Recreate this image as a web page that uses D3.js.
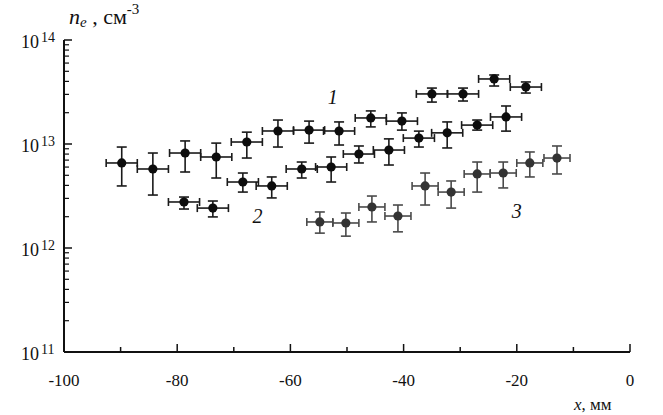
<!DOCTYPE html>
<html><head><meta charset="utf-8">
<script src="https://cdn.jsdelivr.net/npm/d3@7"></script>
<style>body{margin:0;background:#fff}svg{display:block}text{font-family:"Liberation Serif","Times New Roman",serif}</style>
</head><body>
<script>
// Series 1 (upper)
const x1 = [-89.8,-84.3,-78.6,-73.1,-67.7,-62.2,-56.7,-51.4,-45.8,-40.3,-35.0,-29.5,-24.0,-18.4];
const y1 = [6.57e12,5.75e12,8.19e12,7.50e12,1.045e13,1.334e13,1.36e13,1.334e13,1.78e13,1.66e13,3.03e13,3.03e13,4.22e13,3.53e13];
const y1hi = [9.35e12,8.19e12,1.07e13,1.02e13,1.30e13,1.70e13,1.66e13,1.63e13,2.08e13,1.99e13,3.45e13,3.45e13,4.61e13,3.95e13];
const y1lo = [3.95e12,3.23e12,5.38e12,4.71e12,7.33e12,9.35e12,1.02e13,9.78e12,1.46e13,1.36e13,2.53e13,2.59e13,3.61e13,3.09e13];
// Series 2 (middle)
const x2 = [-78.8,-73.7,-68.4,-63.3,-58.0,-52.8,-47.9,-42.6,-37.3,-32.3,-27.0,-21.9];
const y2 = [2.77e12,2.42e12,4.31e12,3.95e12,5.75e12,6.01e12,8.01e12,8.75e12,1.14e13,1.28e13,1.52e13,1.82e13];
const y2hi = [3.09e12,2.83e12,5.26e12,4.82e12,6.71e12,7.50e12,9.57e12,1.12e13,1.33e13,1.63e13,1.70e13,2.32e13];
const y2lo = [2.37e12,1.99e12,3.45e12,3.03e12,4.71e12,4.31e12,6.57e12,6.28e12,9.35e12,9.16e12,1.36e13,1.33e13];
// Series 3 (lower)
const x3 = [-54.8,-50.2,-45.6,-41.0,-36.2,-31.6,-27.0,-22.4,-17.7,-12.9];
const y3 = [1.78e12,1.74e12,2.48e12,2.03e12,3.95e12,3.45e12,5.15e12,5.26e12,6.57e12,7.33e12];
const y3hi = [2.22e12,2.17e12,3.16e12,2.59e12,5.26e12,4.41e12,6.71e12,6.71e12,8.38e12,9.57e12];
const y3lo = [1.39e12,1.30e12,1.78e12,1.43e12,2.59e12,2.42e12,3.45e12,3.78e12,4.82e12,5.15e12];
const xErr = [2.75, 2.75, 2.3];

const xTicks = [-100,-80,-60,-40,-20,0];
const xTickLabels = ["-100","-80","-60","-40","-20","0"];
const yDecades = [1e11,1e12,1e13,1e14];
const yExp = ["11","12","13","14"];
const seriesNames = ["1","2","3"];

const W = 663, H = 415;
const svg = d3.select("body").append("svg").attr("width", W).attr("height", H);
const x = d3.scaleLinear().domain([-100, 0]).range([64, 630]);
const y = d3.scaleLog().domain([1e11, 1e14]).range([352, 40]);

// axes
const ax = svg.append("g").attr("stroke","#111").attr("stroke-width",2);
ax.append("line").attr("x1",x(-100)).attr("x2",x(0)).attr("y1",y(1e11)).attr("y2",y(1e11));
ax.append("line").attr("x1",x(-100)).attr("x2",x(-100)).attr("y1",y(1e11)).attr("y2",y(1e14));
// x ticks
d3.range(-100, 1, 10).forEach(v => {
  const major = v % 20 === 0;
  ax.append("line").attr("x1",x(v)).attr("x2",x(v)).attr("y1",y(1e11)).attr("y2",y(1e11)-(major?8:5))
    .attr("stroke-width",1.5);
});
// y ticks
yDecades.forEach((d,i) => {
  ax.append("line").attr("x1",x(-100)).attr("x2",x(-100)+8).attr("y1",y(d)).attr("y2",y(d)).attr("stroke-width",1.5);
  if (i < yDecades.length-1) {
    for (let k=2;k<=9;k++) {
      ax.append("line").attr("x1",x(-100)).attr("x2",x(-100)+5).attr("y1",y(d*k)).attr("y2",y(d*k)).attr("stroke-width",1.2);
    }
  }
});
// x tick labels
xTicks.forEach((v,i) => {
  svg.append("text").attr("x",x(v)).attr("y",386).attr("text-anchor","middle")
    .attr("font-size",17).attr("fill","#111").text(xTickLabels[i]);
});
// y tick labels
yDecades.forEach((d,i) => {
  svg.append("text").attr("x",39).attr("y",y(d)+8).attr("text-anchor","end")
    .attr("font-size",18).attr("fill","#111").text("10");
  svg.append("text").attr("x",41).attr("y",y(d)+2).attr("font-size",14).attr("fill","#111").text(yExp[i]);
});
// axis titles
const yt = svg.append("text").attr("x",69).attr("y",24).attr("font-size",22).attr("fill","#111");
yt.append("tspan").attr("font-style","italic").text("n");
yt.append("tspan").attr("font-style","italic").attr("font-size",15).attr("dy",3).text("e");
yt.append("tspan").attr("dy",-3).text(" , см");
yt.append("tspan").attr("font-size",15).attr("dy",-10).text("-3");
const xt = svg.append("text").attr("x",574).attr("y",410).attr("font-size",17).attr("fill","#111");
xt.append("tspan").attr("font-style","italic").text("x");
xt.append("tspan").text(", мм");

// data
const series = [
  {xs:x1, ys:y1, hi:y1hi, lo:y1lo, col:"#0d0d0d", ecol:"#1a1a1a"},
  {xs:x2, ys:y2, hi:y2hi, lo:y2lo, col:"#0d0d0d", ecol:"#1a1a1a"},
  {xs:x3, ys:y3, hi:y3hi, lo:y3lo, col:"#333333", ecol:"#4a4a4a"}
];
series.forEach((s,si) => {
  const g = svg.append("g").attr("stroke", s.ecol).attr("stroke-width", 1.6);
  s.xs.forEach((xv,i) => {
    const cx = x(xv), cy = y(s.ys[i]);
    const xl = x(xv - xErr[si]), xr = x(xv + xErr[si]);
    const yh = y(s.hi[i]), yl = y(s.lo[i]);
    g.append("line").attr("x1",xl).attr("x2",xr).attr("y1",cy).attr("y2",cy);
    g.append("line").attr("x1",xl).attr("x2",xl).attr("y1",cy-4).attr("y2",cy+4);
    g.append("line").attr("x1",xr).attr("x2",xr).attr("y1",cy-4).attr("y2",cy+4);
    g.append("line").attr("x1",cx).attr("x2",cx).attr("y1",yh).attr("y2",yl);
    g.append("line").attr("x1",cx-5).attr("x2",cx+5).attr("y1",yh).attr("y2",yh);
    g.append("line").attr("x1",cx-5).attr("x2",cx+5).attr("y1",yl).attr("y2",yl);
    svg.append("circle").attr("cx",cx).attr("cy",cy).attr("r",4.6).attr("fill",s.col);
  });
});
// series labels
const labelPos = [[-52.5, 2.4e13],[-65.8, 1.75e12],[-20, 1.95e12]];
seriesNames.forEach((n,i) => {
  svg.append("text").attr("x",x(labelPos[i][0])).attr("y",y(labelPos[i][1])).attr("text-anchor","middle")
    .attr("font-size",20).attr("font-style","italic").attr("fill","#111").text(n);
});
</script>
</body></html>
